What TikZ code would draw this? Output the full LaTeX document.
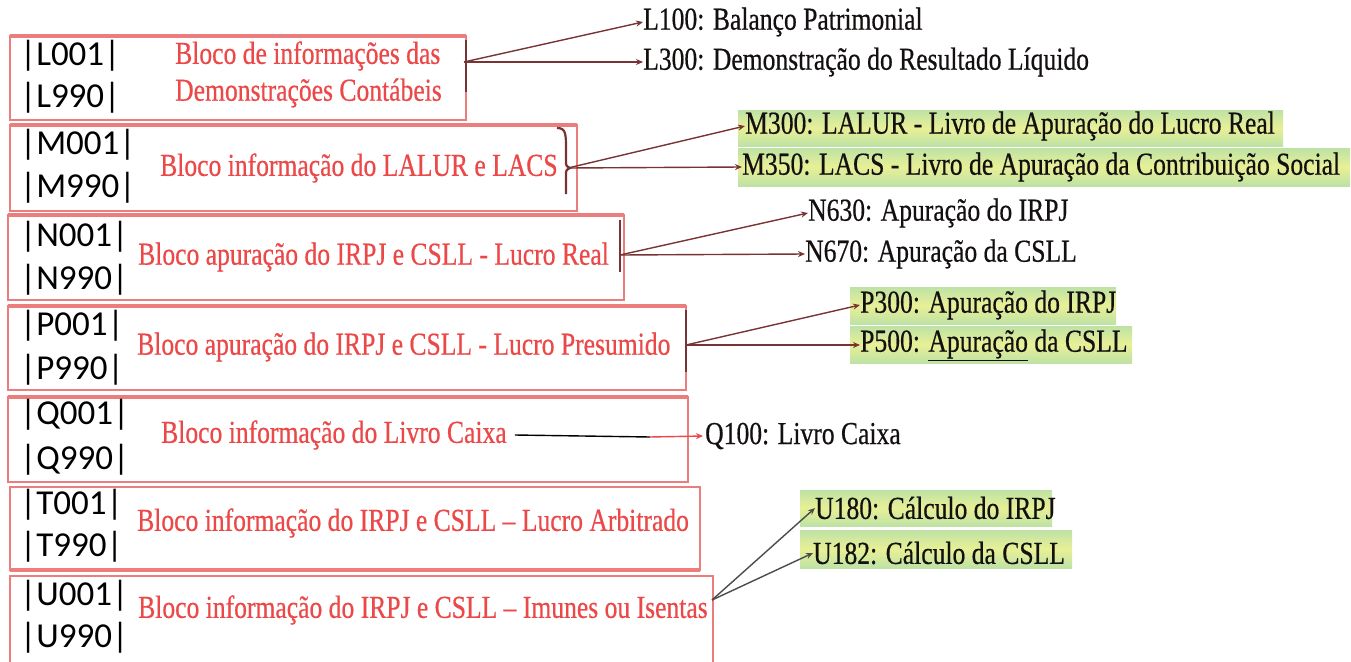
\documentclass[tikz,border=0pt]{standalone}
\usepackage{fontspec}
\setmainfont{Liberation Serif}
\newfontfamily\narrowf[FakeStretch=0.8,FakeBold=0.5,Ligatures=TeX]{Liberation Serif}
\newfontfamily\codef{Carlito}
\usetikzlibrary{arrows.meta}
\definecolor{boxred}{RGB}{236,125,125}
\definecolor{txtred}{RGB}{236,72,72}
\definecolor{brk}{RGB}{120,52,52}
\definecolor{gA}{RGB}{190,226,165}
\definecolor{gB}{RGB}{232,240,150}
\definecolor{lblk}{RGB}{20,16,16}
\tikzset{
  blockbox/.style={draw=boxred, line width=2pt},
  blocktop/.style={draw=boxred, line width=4pt},
  codetxt/.style={font=\codef\fontsize{35}{40}\selectfont, anchor=west, inner sep=0pt, text=black},
  redtxt/.style={font=\narrowf\fontsize{32}{38}\selectfont, anchor=west, inner sep=0pt, text=txtred},
  lbl/.style={font=\narrowf\fontsize{32}{38}\selectfont, anchor=west, inner sep=0pt, text=lblk},
  bracketline/.style={draw=brk, line width=2.2pt},
  conn/.style={draw=brk, line width=1.4pt, -{Stealth[length=7pt,width=6pt]}},
  grayconn/.style={draw=black!70, line width=1.4pt, -{Stealth[length=7pt,width=6pt]}},
  greenbg/.style={top color=gA, bottom color=gA, middle color=gB, draw=none}
}
\begin{document}
\begin{tikzpicture}[x=1pt,y=-1pt]
\useasboundingbox (0,0) rectangle (1351,661);
\fill[white] (0,0) rectangle (1351,661);
% green backgrounds
\fill[greenbg] (738,110) rectangle (1283,146);
\fill[greenbg] (738,148) rectangle (1350,186);
\fill[greenbg] (850,287) rectangle (1116,324);
\fill[greenbg] (850,326) rectangle (1132,363);
\fill[greenbg] (800,490) rectangle (1052,526);
\fill[greenbg] (800,530) rectangle (1072,568);
% block boxes
\draw[blockbox] (10,36) rectangle (466,120);  \draw[blocktop] (10,36) -- (466,36);
\draw[blockbox] (10,125) rectangle (577,211); \draw[blocktop] (10,125) -- (577,125);
\draw[blockbox] (8,215) rectangle (624,300);  \draw[blocktop] (8,215) -- (624,215);
\draw[blockbox] (8,306) rectangle (686,390);  \draw[blocktop] (8,306) -- (686,306);
\draw[blockbox] (8,397) rectangle (688,482);  \draw[blocktop] (8,397) -- (688,397);
\draw[blockbox] (10,487) rectangle (700,570); \draw[blocktop] (10,570) -- (700,570);
\draw[blockbox] (10,576) rectangle (713,664);
% codes
\node[codetxt] (l1) at (20,56) {|L001|};
\node[codetxt] (l2) at (20,98) {|L990|};
\node[codetxt] (m1) at (20,145) {|M001|};
\node[codetxt] (m2) at (20,188) {|M990|};
\node[codetxt] (n1) at (20,237) {|N001|};
\node[codetxt] (n2) at (20,280) {|N990|};
\node[codetxt] (p1) at (20,326) {|P001|};
\node[codetxt] (p2) at (20,370) {|P990|};
\node[codetxt] (q1) at (20,415) {|Q001|};
\node[codetxt] (q2) at (20,460) {|Q990|};
\node[codetxt] (t1) at (20,505) {|T001|};
\node[codetxt] (t2) at (20,547) {|T990|};
\node[codetxt] (u1) at (20,596) {|U001|};
\node[codetxt] (u2) at (20,638) {|U990|};
% red titles
\node[redtxt] (lt1) at (175,56) {Bloco de informações das};
\node[redtxt] (lt2) at (175,93) {Demonstrações Contábeis};
\node[redtxt] (mt) at (160,168) {Bloco informação do LALUR e LACS};
\node[redtxt] (nt) at (138,257) {Bloco apuração do IRPJ e CSLL - Lucro Real};
\node[redtxt] (pt) at (137,347) {Bloco apuração do IRPJ e CSLL - Lucro Presumido};
\node[redtxt] (qt) at (161,435) {Bloco informação do Livro Caixa};
\node[redtxt] (tt) at (137,523) {Bloco informação do IRPJ e CSLL – Lucro Arbitrado};
\node[redtxt] (ut) at (138,610) {Bloco informação do IRPJ e CSLL – Imunes ou Isentas};
% labels
\node[lbl] (l100) at (643,22) {L100: Balanço Patrimonial};
\node[lbl] (l300) at (643,62) {L300: Demonstração do Resultado Líquido};
\node[lbl] (m300) at (745,126) {M300: LALUR - Livro de Apuração do Lucro Real};
\node[lbl] (m350) at (742,167) {M350: LACS - Livro de Apuração da Contribuição Social};
\node[lbl] (n630) at (808,213) {N630: Apuração do IRPJ};
\node[lbl] (n670) at (805,254) {N670: Apuração da CSLL};
\node[lbl] (p300) at (860,305) {P300: Apuração do IRPJ};
\node[lbl] (p500) at (860,345) {P500: \underline{Apuração} da CSLL};
\node[lbl] (q100) at (705,436) {Q100: Livro Caixa};
\node[lbl] (u180) at (815,508) {U180: Cálculo do IRPJ};
\node[lbl] (u182) at (813,553) {U182: Cálculo da CSLL};
% brackets
\draw[bracketline] (466,40) -- (466,92);
\draw[bracketline] (557,128) .. controls (566,128) and (566,134) .. (566,150) -- (566,160) .. controls (566,166) .. (570,168) .. controls (566,170) .. (566,176) -- (566,194);
\draw[bracketline] (620,220) -- (620,272);
\draw[bracketline] (686,310) -- (686,372);
% junction points
\coordinate (lj) at (464,62);
\coordinate (mj) at (568,168);
\coordinate (nj) at (620,255);
\coordinate (pj) at (686,345);
\coordinate (qj) at (650,437);
\coordinate (uj) at (712,600);
% connectors
\draw[conn] (lj) -- (l100.west);
\draw[conn] (lj) -- (l300.west);
\draw[conn] (mj) -- (m300.west);
\draw[conn] (mj) -- (m350.west);
\draw[conn] (nj) -- (n630.west);
\draw[conn] (nj) -- (n670.west);
\draw[conn] (pj) -- (p300.west);
\draw[conn] (pj) -- (p500.west);
\draw[black, line width=1.4pt] ([xshift=8pt]qt.east) -- (qj);
\draw[draw=txtred, line width=1.4pt, -{Stealth[length=7pt,width=6pt]}] (qj) -- ([xshift=-2pt]q100.west);
\draw[grayconn] (uj) -- (u180.west);
\draw[grayconn] (uj) -- (u182.west);
\end{tikzpicture}
\end{document}
